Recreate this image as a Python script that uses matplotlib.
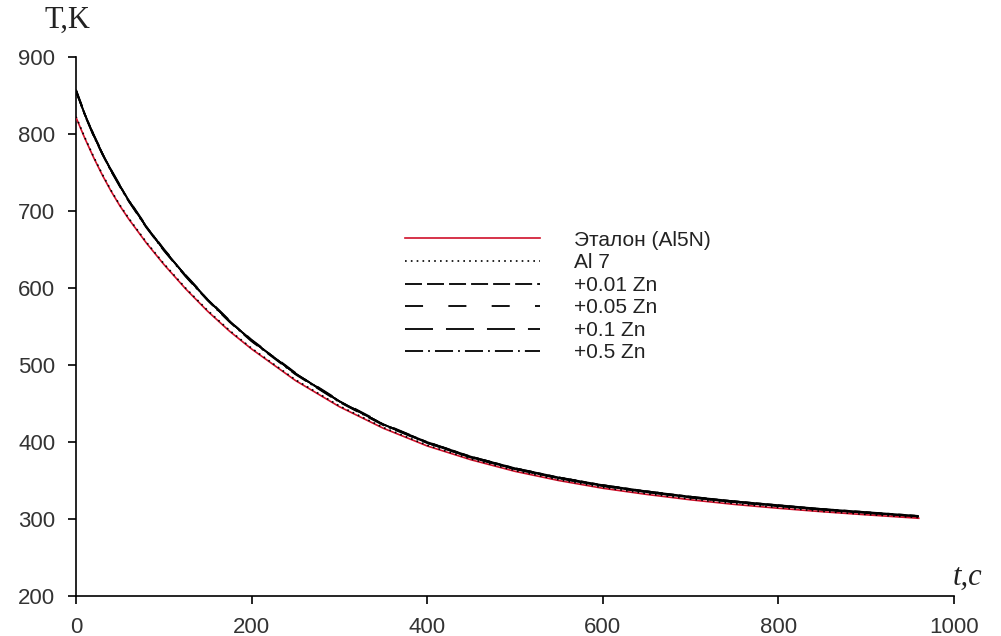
import matplotlib
matplotlib.use("Agg")
import matplotlib.pyplot as plt

# time, s
t = [0, 10, 20, 30, 40, 50, 60, 80, 100, 125, 150, 175, 200, 250, 300, 350,
     400, 450, 500, 550, 600, 650, 700, 750, 800, 850, 900, 960]

ref_al5n = [822, 795, 770, 747, 726, 707, 690, 659, 631, 599, 570, 544, 521, 480,
            446, 418, 395, 377, 362, 350, 340, 332, 325, 319, 314, 309.5, 305.5, 301]
al7 = [823, 796, 771, 748, 727, 708, 691, 660, 632, 600, 571, 545, 522, 481,
       447, 419, 396, 378, 363, 351, 341, 333, 326, 320, 315, 310, 306, 302]
zn001 = [857, 826, 799, 775, 753, 733, 714, 680, 650, 616, 585, 557, 532, 489,
         453, 423, 400, 381, 366, 354, 344, 336, 329, 323, 318, 313, 309, 304]
zn005 = [858, 827, 800, 776, 754, 734, 715, 681, 651, 617, 586, 558, 533, 490,
         454, 424, 400, 381, 366, 354, 344, 336, 329, 323, 317, 313, 308, 303]
zn01 = [856, 826, 799, 775, 753, 733, 714, 680, 650, 616, 585, 557, 532, 489,
        453, 423, 399, 380, 365, 353, 343, 335, 328, 322, 317, 312, 308, 303]
zn05 = [857, 825, 798, 774, 752, 732, 713, 679, 649, 615, 584, 556, 531, 488,
        452, 422, 399, 380, 365, 353, 343, 335, 328, 322, 317, 312, 308, 303]

labels = ["Эталон (Al5N)", "Al 7", "+0.01 Zn", "+0.05 Zn", "+0.1 Zn", "+0.5 Zn"]

xticks = [0, 200, 400, 600, 800, 1000]
yticks = [200, 300, 400, 500, 600, 700, 800, 900]

plt.rcParams['font.family'] = ['Liberation Sans', 'DejaVu Sans']

fig = plt.figure(figsize=(10.01, 6.36), dpi=100)
ax = fig.add_axes([0.0759, 0.0629, 0.877, 0.847])

ax.plot(t, ref_al5n, color='#d0102a', lw=1.2, label=labels[0], zorder=3)
ax.plot(t, al7, color='black', lw=1.2, ls=(0, (1, 2.5)), label=labels[1], zorder=4)
ax.plot(t, zn001, color='black', lw=1.3, ls=(0, (9.4, 2.8)), label=labels[2])
ax.plot(t, zn005, color='black', lw=1.3, ls=(0, (10, 14)), label=labels[3])
ax.plot(t, zn01, color='black', lw=1.3, ls=(0, (15.5, 7.2)), label=labels[4])
ax.plot(t, zn05, color='black', lw=1.3, ls=(0, (10, 2.8, 1, 2.8)), label=labels[5])

# main-curve copies with staggered dash phase so the overlapping black band stays solid
for ys, pat, off in [(zn001, (9.4, 2.8), 6), (zn01, (15.5, 7.2), 11)]:
    ax.plot(t, ys, color='black', lw=1.3, ls=(off, pat))

ax.set_xlim(0, 1000)
ax.set_ylim(200, 900)
ax.set_xticks(xticks)
ax.set_yticks(yticks)
ax.spines['top'].set_visible(False)
ax.spines['right'].set_visible(False)
ax.spines['left'].set_linewidth(1.2)
ax.spines['bottom'].set_linewidth(1.2)
ax.tick_params(direction='out', length=6, width=1.2, labelsize=16, pad=9,
               labelcolor='#333333')

leg = ax.legend(loc='upper left', bbox_to_anchor=(0.3747, 0.678), frameon=False,
                fontsize=15, handlelength=6.5, handletextpad=1.6,
                labelspacing=0.17, borderpad=0, borderaxespad=0)
for txt in leg.get_texts():
    txt.set_color('#222222')

fig.text(0.067, 0.968, "T,K", fontsize=22, family=['Liberation Serif', 'DejaVu Serif'],
         ha='center', va='center', color='#222222')
fig.text(0.967, 0.093, "t,c", fontsize=22, style='italic',
         family=['Liberation Serif', 'DejaVu Serif'], ha='center', va='center',
         color='#222222')

fig.savefig("out.png", dpi=100)
